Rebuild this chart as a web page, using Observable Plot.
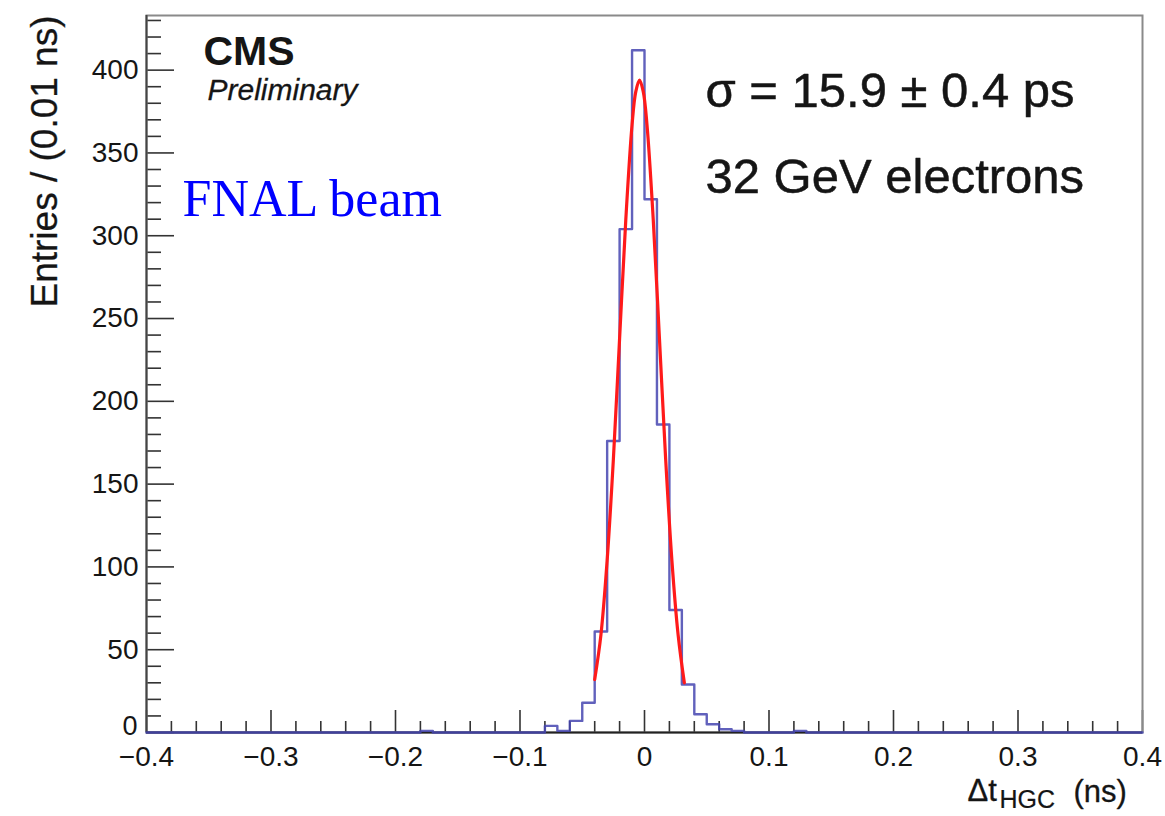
<!DOCTYPE html>
<html><head><meta charset="utf-8">
<script src="https://cdn.jsdelivr.net/npm/d3@7"></script>
<script src="https://cdn.jsdelivr.net/npm/@observablehq/plot@0.6"></script>
<style>body{margin:0;background:#fff}</style>
</head><body><div id="chart"></div>
<script>
// Histogram: entries per 0.01 ns bin, bins starting at -0.40 ns
const binStart = -0.4;
const binWidth = 0.01;
const counts = [
  0,0,0,0,0,0,0,0,0,0,          // -0.40 .. -0.31
  0,0,0,0,0,0,0,0,0,0,          // -0.30 .. -0.21
  0,0,1,0,0,0,0,0,0,0,          // -0.20 .. -0.11
  0,0,4,1,7,18,61,176,304,412,  // -0.10 .. -0.01
  322,186,74,29,11,5,2,1,0,0,   //  0.00 ..  0.09
  0,0,1,0,0,0,0,0,0,0,          //  0.10 ..  0.19
  0,0,0,0,0,0,0,0,0,0,          //  0.20 ..  0.29
  0,0,0,0,0,0,0,0,0,0           //  0.30 ..  0.39
];
// Gaussian fit curve
const fitX = [-0.040,-0.035,-0.030,-0.025,-0.020,-0.015,-0.010,-0.007,-0.004,-0.001,0.002,0.007,0.012,0.017,0.022,0.027,0.032];
const fitY = [32,59,104,165,238,310,367,387,394,387,367,310,238,165,104,59,30];
// Axis ticks
const xMajor = [-0.4,-0.3,-0.2,-0.1,0,0.1,0.2,0.3,0.4];
const xMinor = [-0.38,-0.36,-0.34,-0.32,-0.28,-0.26,-0.24,-0.22,-0.18,-0.16,-0.14,-0.12,-0.08,-0.06,-0.04,-0.02,0.02,0.04,0.06,0.08,0.12,0.14,0.16,0.18,0.22,0.24,0.26,0.28,0.32,0.34,0.36,0.38];
const yMajor = [0,50,100,150,200,250,300,350,400];
const yMinor = [10,20,30,40,60,70,80,90,110,120,130,140,160,170,180,190,210,220,230,240,260,270,280,290,310,320,330,340,360,370,380,390,410,420,430];
const yMax = 433;
// Texts
const cmsLabel = "CMS";
const prelimLabel = "Preliminary";
const sigmaLabel = "σ = 15.9 ± 0.4 ps";
const beamLabel = "32 GeV electrons";
const fnalLabel = "FNAL beam";
const yTitle = "Entries / (0.01 ns)";

const hist = counts.map((c, i) => ({x: +(binStart + i * binWidth).toFixed(2), y: c}));
hist.push({x: +(binStart + counts.length * binWidth).toFixed(2), y: counts[counts.length - 1]});
const fit = fitX.map((x, i) => ({x, y: fitY[i]}));

const W = 1165, H = 816, mL = 146, mR = 23, mT = 15, mB = 84;
const plotW = W - mL - mR, plotH = H - mT - mB;
const fmtX = d => d === 0 ? "0" : (d < 0 ? "\u2212" : "") + Math.abs(d).toFixed(1);
const sans = "'Liberation Sans', Arial, Helvetica, sans-serif";
const ink = "#151515";

const chart = Plot.plot({
  width: W, height: H,
  marginLeft: mL, marginRight: mR, marginTop: mT, marginBottom: mB,
  style: {fontFamily: sans, background: "#fff", color: ink},
  x: {domain: [-0.4, 0.4]},
  y: {domain: [0, yMax]},
  marks: [
    Plot.tickY(yMinor, {y: d => d, insetRight: plotW - 15, stroke: "#333", strokeWidth: 1.6}),
    Plot.tickY(yMajor, {y: d => d, insetRight: plotW - 28, stroke: "#333", strokeWidth: 1.6}),
    Plot.tickX(xMinor, {x: d => d, insetTop: plotH - 11, stroke: "#333", strokeWidth: 1.6}),
    Plot.tickX(xMajor, {x: d => d, insetTop: plotH - 22, stroke: "#333", strokeWidth: 1.6}),
    Plot.frame({stroke: "#8a8a8a", strokeWidth: 2}),
    Plot.ruleX([-0.4], {stroke: "#444", strokeWidth: 2}),
    Plot.ruleY([0], {stroke: "#222", strokeWidth: 2}),
    Plot.axisX({ticks: xMajor, tickSize: 0, tickPadding: 14, fontSize: 28, tickFormat: fmtX, label: null, stroke: ink, strokeWidth: 0.3}),
    Plot.axisY({ticks: yMajor.filter(d => d !== 0), tickSize: 0, tickPadding: 8, fontSize: 28, label: null, stroke: ink, strokeWidth: 0.3}),
    Plot.axisY({ticks: [0], tickSize: 0, tickPadding: 9, dy: -6, fontSize: 27, label: null, stroke: ink, strokeWidth: 0.3}),
    Plot.line(hist, {x: "x", y: "y", curve: "step-after", stroke: "#4545b0", strokeWidth: 2.4, strokeOpacity: 0.85}),
    Plot.line(fit, {x: "x", y: "y", curve: "catmull-rom", stroke: "#ff1a1a", strokeWidth: 3.2}),
    Plot.text([cmsLabel], {text: d => d, frameAnchor: "top-left", dx: 57, dy: 36, textAnchor: "start", lineAnchor: "middle", fontSize: 41, fontWeight: "bold", fill: ink}),
    Plot.text([prelimLabel], {text: d => d, frameAnchor: "top-left", dx: 61, dy: 75, textAnchor: "start", lineAnchor: "middle", fontSize: 30, fontStyle: "italic", fill: ink, stroke: ink, strokeWidth: 0.3}),
    Plot.text([sigmaLabel], {text: d => d, frameAnchor: "top-left", dx: 559, dy: 76, textAnchor: "start", lineAnchor: "middle", fontSize: 49, fill: ink, stroke: ink, strokeWidth: 0.5}),
    Plot.text([beamLabel], {text: d => d, frameAnchor: "top-left", dx: 559, dy: 162, textAnchor: "start", lineAnchor: "middle", fontSize: 49, fill: ink, stroke: ink, strokeWidth: 0.5}),
    Plot.text([fnalLabel], {text: d => d, frameAnchor: "top-left", dx: 36, dy: 184, textAnchor: "start", lineAnchor: "middle", fontSize: 52, fontFamily: "'Liberation Serif', 'Times New Roman', serif", fill: "#0000ff"}),
    Plot.text([yTitle], {text: d => d, frameAnchor: "top-left", dx: -101, dy: 0, rotate: -90, textAnchor: "end", lineAnchor: "middle", fontSize: 37, fill: ink, stroke: ink, strokeWidth: 0.3}),
    Plot.text(["\u0394t"], {text: d => d, frameAnchor: "bottom-left", dx: 821, dy: 59, textAnchor: "start", lineAnchor: "middle", fontSize: 31, fill: ink, stroke: ink, strokeWidth: 0.3}),
    Plot.text(["HGC"], {text: d => d, frameAnchor: "bottom-left", dx: 853, dy: 67, textAnchor: "start", lineAnchor: "middle", fontSize: 25, fill: ink, stroke: ink, strokeWidth: 0.2}),
    Plot.text(["(ns)"], {text: d => d, frameAnchor: "bottom-left", dx: 927, dy: 60, textAnchor: "start", lineAnchor: "middle", fontSize: 31, fill: ink, stroke: ink, strokeWidth: 0.3})
  ]
});
document.getElementById("chart").append(chart);
</script>
</body></html>
